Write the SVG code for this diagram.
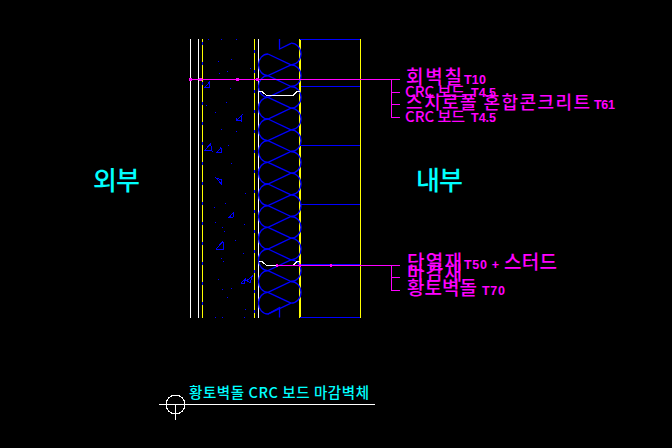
<svg xmlns="http://www.w3.org/2000/svg" width="672" height="448" viewBox="0 0 672 448">
<style>
path,circle{shape-rendering:crispEdges}
.w{stroke:#fff;fill:none;stroke-width:1}
.y{stroke:#ff0;fill:none;stroke-width:1}
.y2{stroke:#ff0;fill:none;stroke-width:2}
.b{stroke:#00f;fill:none;stroke-width:1}
#insulation path,defs path{shape-rendering:auto}
.i{stroke:#00f;fill:none;stroke-width:1.300}
.m{stroke:#f0f;fill:none;stroke-width:1}
.d{fill:#00f}
.ko{font-family:"Noto Sans CJK KR","Liberation Sans",sans-serif;fill:#f0f;font-weight:500}
.la{font-family:"Liberation Sans",sans-serif;font-weight:bold;fill:#f0f;font-size:12.500px}
.cy{font-family:"Noto Sans CJK KR","Liberation Sans",sans-serif;fill:#0ff;font-weight:500}
</style>
<defs>
<g id="cell" class="i">
<path d="M268 0A9.500 10.830 0 0 0 268 21.670L291 10.830A10 10.830 0 0 0 291 -10.830"/>
</g>
<path id="diag" class="i" d="M268 21.670L291 32.500"/>
</defs>
<rect width="672" height="448" fill="#000"/>
<g id="wall">
<path class="w" d="M190.500 39V318M198.500 39V318M258.500 39V318"/>
<path class="y" d="M202.500 39V318M254.500 39V318M360.500 39V318"/>
<path class="y2" d="M300 39V318"/>
<path class="b" d="M300 39.500H360M300 145.500H360M300 317.500H360M301 86.500H360M301 204.500H360M301 264.500H360"/>
<path class="b" stroke-dasharray="3 17" d="M202.500 42V318M254.500 50V318"/>
</g>
<g id="insulation">
<path class="i" d="M279.500 39V49L291 43.330"/>
<path class="i" d="M268 54L291 64.830"/>
<path class="i" d="M268 314L279.500 307.500V317.500"/>
<use href="#cell" y="54"/><use href="#cell" y="75.670"/><use href="#cell" y="97.330"/><use href="#cell" y="119"/>
<use href="#cell" y="140.670"/><use href="#cell" y="162.330"/><use href="#cell" y="184"/><use href="#cell" y="205.670"/>
<use href="#cell" y="227.330"/><use href="#cell" y="249"/><use href="#cell" y="270.670"/><use href="#cell" y="292.330"/>
<use href="#diag" y="54"/><use href="#diag" y="75.670"/><use href="#diag" y="97.330"/><use href="#diag" y="119"/>
<use href="#diag" y="140.670"/><use href="#diag" y="162.330"/><use href="#diag" y="184"/><use href="#diag" y="205.670"/>
<use href="#diag" y="227.330"/><use href="#diag" y="249"/><use href="#diag" y="270.670"/>
</g>
<g id="studs">
<path class="w" d="M258.500 91.500H262L266.500 95.500H293L297 91.500H300"/>
<path class="w" d="M258.500 261.500H262L266.500 265.500H293L297 261.500H300"/>
</g>
<g id="concrete">
<path class="b" d="M205 87.500L209.500 82L210 87.500ZM204.500 150.500L210.500 144L212 151ZM217 152.500L221 147.500L221.500 152.500ZM236.500 120L242 115.500L241.500 121ZM216 178L222 180L221.500 184ZM229 217.500L233.500 212.500L233 217.500ZM216 249L223 241.500L223.500 249.500ZM241 283L245.500 279L244.500 283.500ZM247 280.500L252.500 276L250 283Z"/>
<path class="d" d="M208 39h1v1h-1zM221 39h1v1h-1zM236 39h1v1h-1zM218 61h1v1h-1zM231 59h1v1h-1zM219 73h1v1h-1zM227 71h1v1h-1zM250 68h1v1h-1zM230 88h1v1h-1zM206 105h1v1h-1zM226 102h1v1h-1zM215 112h1v1h-1zM236 118h1v1h-1zM221 129h1v1h-1zM236 131h1v1h-1zM228 145h1v1h-1zM231 163h1v1h-1zM245 193h1v1h-1zM225 203h1v1h-1zM214 207h1v1h-1zM215 222h1v1h-1zM222 227h1v1h-1zM224 231h1v1h-1zM244 224h1v1h-1zM235 240h1v1h-1zM243 253h1v1h-1zM221 258h1v1h-1zM223 261h1v1h-1zM218 279h1v1h-1zM222 289h1v1h-1zM231 288h1v1h-1zM227 297h1v1h-1zM245 309h1v1h-1zM215 317h1v1h-1zM222 317h1v1h-1zM244 317h1v1h-1z"/>
</g>
<g id="leaders">
<path class="m" d="M189 79.500H400M391.500 79.500V117.500M391.500 92.500H400M391.500 104.500H400M391.500 117.500H400"/>
<path class="m" d="M277 265.500H400M391.500 265.500V290.500M391.500 277.500H400M391.500 290.500H400"/>
<path d="M189 78h3v3h-3zM199 78h3v3h-3zM236 78h3v3h-3zM255.500 78h3v3h-3z" fill="#f0f"/>
<path d="M276 264h2v3h-2zM299 264h2v3h-2zM330 264h2v3h-2z" fill="#f0f"/>
</g>
<g id="labels-top">
<text class="ko" x="406" y="84" font-size="19" textLength="56">회벽칠</text>
<text class="la" x="464" y="84" textLength="22">T10</text>
<text class="ko" x="405" y="97" font-size="15" textLength="60">CRC 보드</text>
<text class="la" x="471" y="97" textLength="25">T4.5</text>
<text class="ko" x="406" y="109" font-size="18" textLength="184">스치로폴 혼합콘크리트</text>
<text class="la" x="594" y="109" textLength="21">T61</text>
<text class="ko" x="405" y="122" font-size="15" textLength="60">CRC 보드</text>
<text class="la" x="471" y="122" textLength="25">T4.5</text>
</g>
<g id="labels-bottom">
<text class="ko" x="407" y="269" font-size="19" textLength="55">단열재</text>
<text class="la" x="464" y="269" textLength="35">T50 +</text>
<text class="ko" x="504" y="269" font-size="19" textLength="53">스터드</text>
<text class="ko" x="407" y="280" font-size="19" textLength="55">마감재</text>
<text class="ko" x="407" y="295" font-size="19" textLength="70">황토벽돌</text>
<text class="la" x="482" y="295" textLength="23">T70</text>
</g>
<g id="zones">
<text class="cy" x="93" y="190" font-size="26" textLength="47">외부</text>
<text class="cy" x="416" y="190" font-size="26" textLength="47">내부</text>
</g>
<g id="title">
<text class="cy" x="189" y="398" font-size="14.500" font-weight="bold" textLength="180">황토벽돌 CRC 보드 마감벽체</text>
<path class="w" d="M159 404.500H375M175.500 404V420"/>
<circle class="w" cx="175.500" cy="404.500" r="9.500"/>
</g>
</svg>
